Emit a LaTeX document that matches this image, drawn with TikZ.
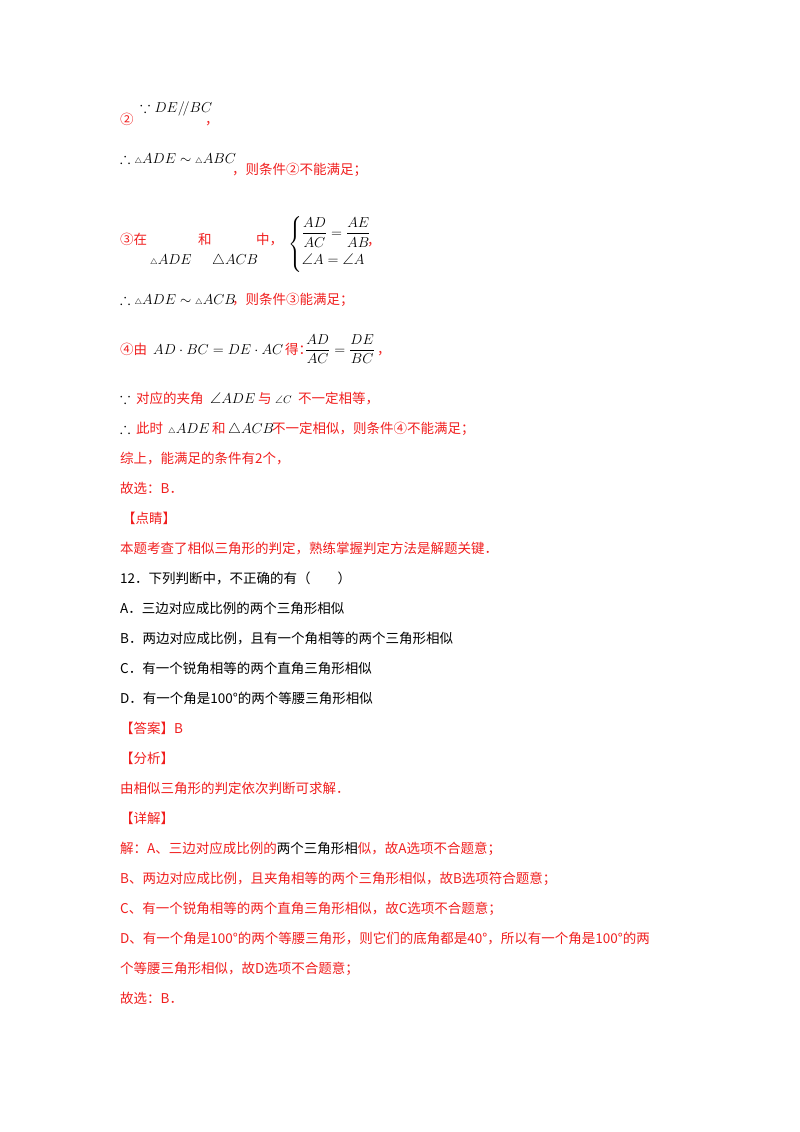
\documentclass[tikz,border=0pt]{standalone}
\usepackage{amsmath,amssymb}
\usepackage{fontspec}
\setmainfont{Noto Sans CJK SC}
\newcommand{\st}{{\scriptscriptstyle\triangle}}
\definecolor{rd}{RGB}{240,30,30}
\begin{document}
\begin{tikzpicture}[x=1pt,y=-1pt,
  t/.style={anchor=base west,inner sep=0pt,font=\fontsize{13.5}{16}\selectfont},
  r/.style={t,text=rd},
  k/.style={t,text=black},
  m/.style={anchor=base west,inner sep=0pt,font=\fontsize{15.5}{18}\selectfont}]
\useasboundingbox (0,0) rectangle (800,1132);
\node[r] (c2) at (120,124) {②};
\node[m] (m1) at (140,112) {$\because DE/\!/BC$};
\node[r] (c2b) at (205,124) {，};
\node[m] (m2) at (120,163) {$\therefore\st ADE\sim\st ABC$};
\node[r] (l2) at (232,174) {，则条件②不能满足；};
\node[r] (l3a) at (120,244) {③在};
\node[r] (l3b) at (198,244) {和};
\node[r] (l3c) at (256,244) {中，};
\node[m] (m3a) at (150,264) {$\st ADE$};
\node[m] (m3b) at (212,264) {$\triangle ACB$};
\node[m] (m3c) at (288,248) {$\begin{cases}\dfrac{AD}{AC}=\dfrac{AE}{AB}\\[6pt] \angle A=\angle A\end{cases}$};
\node[r] (l3d) at (367,245) {，};
\node[m] (m4) at (120,304) {$\therefore\st ADE\sim\st ACB$};
\node[r] (l4) at (232,304) {，则条件③能满足；};
\node[r] (l5a) at (120,354) {④由};
\node[m] (m5a) at (153,354) {$AD\cdot BC=DE\cdot AC$};
\node[r] (l5b) at (285,354) {得：};
\node[m] (m5b) at (305,354) {$\dfrac{AD}{AC}=\dfrac{DE}{BC}$};
\node[r] (l5c) at (377,354) {，};
\node[m] (m6a) at (120,403) {$\because$};
\node[r] (l6a) at (136,403) {对应的夹角};
\node[m] (m6b) at (210,403) {$\angle ADE$};
\node[r] (l6b) at (258,403) {与};
\node[m] (m6c) at (275,403) {$\scriptstyle\angle C$};
\node[r] (l6c) at (298,403) {不一定相等，};
\node[m] (m7a) at (120,433) {$\therefore$};
\node[r] (l7a) at (136,433) {此时};
\node[m] (m7b) at (168,433) {$\st ADE$};
\node[r] (l7b) at (212,433) {和};
\node[m] (m7c) at (228,433) {$\triangle ACB$};
\node[r] (l7c) at (272,433) {不一定相似，则条件④不能满足；};
\node[r] (l8) at (120,463) {综上，能满足的条件有2个，};
\node[r] (l9) at (120,493) {故选：B．};
\node[r] (l10) at (122,523) {【点睛】};
\node[r] (l11) at (120,553) {本题考查了相似三角形的判定，熟练掌握判定方法是解题关键．};
\node[k] (q) at (120,583) {12．下列判断中，不正确的有（\quad\quad）};
\node[k] (qa) at (120,613) {A．三边对应成比例的两个三角形相似};
\node[k] (qb) at (120,643) {B．两边对应成比例，且有一个角相等的两个三角形相似};
\node[k] (qc) at (120,673) {C．有一个锐角相等的两个直角三角形相似};
\node[k] (qd) at (120,703) {D．有一个角是100°的两个等腰三角形相似};
\node[r] (an) at (120,733) {【答案】B};
\node[r] (fx) at (120,763) {【分析】};
\node[r] (fx1) at (120,793) {由相似三角形的判定依次判断可求解．};
\node[r] (xj) at (120,823) {【详解】};
\node[r] (j1) at (120,853) {解：A、三边对应成比例的\textcolor{black}{两个三角形相}似，故A选项不合题意；};
\node[r] (j2) at (120,883) {B、两边对应成比例，且夹角相等的两个三角形相似，故B选项符合题意；};
\node[r] (j3) at (120,913) {C、有一个锐角相等的两个直角三角形相似，故C选项不合题意；};
\node[r] (j4) at (120,943) {D、有一个角是100°的两个等腰三角形，则它们的底角都是40°，所以有一个角是100°的两};
\node[r] (j5) at (120,973) {个等腰三角形相似，故D选项不合题意；};
\node[r] (j6) at (120,1003) {故选：B．};
\end{tikzpicture}
\end{document}
